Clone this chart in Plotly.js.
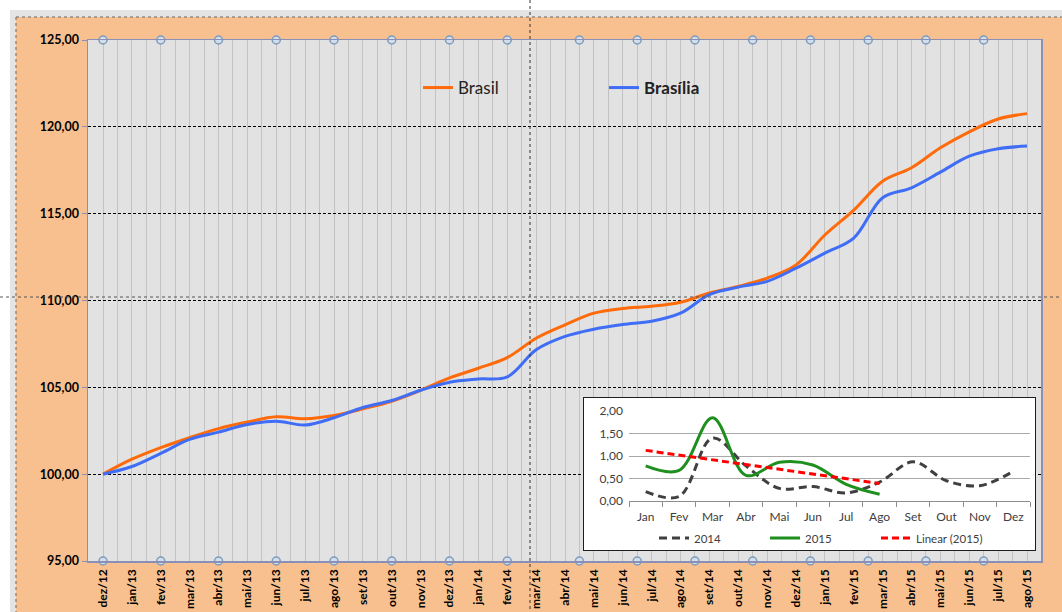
<!DOCTYPE html>
<html>
<head>
<meta charset="utf-8">
<script src="https://cdn.plot.ly/plotly-3.0.1.min.js"></script>
<style>html,body{margin:0;padding:0;background:#fff;}#chart{width:1062px;height:612px;}</style>
</head>
<body>
<div id="chart"></div>
<script>
// ---------- data ----------
const categories = ['dez/12','jan/13','fev/13','mar/13','abr/13','mai/13','jun/13','jul/13','ago/13','set/13','out/13','nov/13','dez/13','jan/14','fev/14','mar/14','abr/14','mai/14','jun/14','jul/14','ago/14','set/14','out/14','nov/14','dez/14','jan/15','fev/15','mar/15','abr/15','mai/15','jun/15','jul/15','ago/15'];
const brasil   = [100.00,100.86,101.53,102.10,102.62,103.00,103.30,103.19,103.38,103.76,104.20,104.83,105.54,106.10,106.71,107.83,108.60,109.27,109.54,109.67,109.90,110.43,110.81,111.29,112.05,113.77,115.20,116.87,117.64,118.79,119.71,120.45,120.76];
const brasilia = [100.00,100.44,101.20,102.00,102.42,102.86,103.05,102.83,103.25,103.84,104.24,104.83,105.29,105.48,105.60,107.16,107.93,108.35,108.62,108.81,109.27,110.34,110.77,111.10,111.86,112.73,113.59,115.92,116.49,117.39,118.31,118.74,118.89];
const frameMarkerSlots = [0,2,4,6,8,10,12,14,16.5,18.5,20.5,22.5,24.5,26.5,28.5,30.5];
const yTicks = [95,100,105,110,115,120,125];

const months = ['Jan','Fev','Mar','Abr','Mai','Jun','Jul','Ago','Set','Out','Nov','Dez'];
const v2014 = [0.21,0.10,1.40,0.78,0.28,0.32,0.18,0.42,0.87,0.45,0.34,0.66];
const v2015 = [0.78,0.68,1.85,0.57,0.86,0.80,0.37,0.15];
const insetTicks = [0,0.5,1,1.5,2];

// ---------- geometry helpers ----------
const W = 1062, H = 612, ML = 88, MR = 21, MT = 40, MB = 51;
const PW = W - ML - MR, PH = H - MT - MB;
const px = p => (p - ML) / PW;
const py = p => (H - MB - p) / PH;

const idx = categories.map((c, i) => i);
const yMin = yTicks[0], yMax = yTicks[yTicks.length - 1];

// linear trend of 2015
const n = v2015.length;
const xs = v2015.map((v, i) => i + 1);
const mx = xs.reduce((a, b) => a + b, 0) / n;
const my = v2015.reduce((a, b) => a + b, 0) / n;
let sxy = 0, sxx = 0;
xs.forEach((x, i) => { sxy += (x - mx) * (v2015[i] - my); sxx += (x - mx) * (x - mx); });
const slope = sxy / sxx, icpt = my - slope * mx;
const trend = xs.map(x => icpt + slope * x);

const FONT = 'Lato, "Open Sans", sans-serif';

const traces = [
  {x: idx, y: brasil, name: 'Brasil', type: 'scatter', mode: 'lines',
   line: {color: '#ff6a0a', width: 3, shape: 'spline', smoothing: 1}, legend: 'legend'},
  {x: idx, y: brasilia, name: '<b>Brasília</b>', type: 'scatter', mode: 'lines',
   line: {color: '#3f6df5', width: 3, shape: 'spline', smoothing: 1}, legend: 'legend'},
  {x: frameMarkerSlots, y: frameMarkerSlots.map(() => yMax), type: 'scatter', mode: 'markers',
   cliponaxis: false, showlegend: false, hoverinfo: 'skip',
   marker: {symbol: 'circle', size: 8, color: '#d3deea', line: {color: '#7d9bbd', width: 1.5}}},
  {x: frameMarkerSlots, y: frameMarkerSlots.map(() => yMin), type: 'scatter', mode: 'markers',
   cliponaxis: false, showlegend: false, hoverinfo: 'skip',
   marker: {symbol: 'circle', size: 8, color: '#d3deea', line: {color: '#7d9bbd', width: 1.5}}},
  // inset box background
  {x: [0, 1, 1, 0, 0], y: [0, 0, 1, 1, 0], xaxis: 'x2', yaxis: 'y2', type: 'scatter', mode: 'lines',
   fill: 'toself', fillcolor: '#ffffff', line: {color: '#1e1e1e', width: 2},
   cliponaxis: false, showlegend: false, hoverinfo: 'skip'},
  // inset series
  {x: months, y: v2014, name: '2014', xaxis: 'x3', yaxis: 'y3', type: 'scatter', mode: 'lines',
   line: {color: '#404040', width: 3, dash: '8px,5px', shape: 'spline', smoothing: 1}, legend: 'legend2', cliponaxis: false},
  {x: months.slice(0, v2015.length), y: v2015, name: '2015', xaxis: 'x3', yaxis: 'y3', type: 'scatter', mode: 'lines',
   line: {color: '#1f8f1f', width: 3, shape: 'spline', smoothing: 1}, legend: 'legend2', cliponaxis: false},
  {x: months.slice(0, v2015.length), y: trend, name: 'Linear (2015)', xaxis: 'x3', yaxis: 'y3', type: 'scatter', mode: 'lines',
   line: {color: '#ff0000', width: 3, dash: '7px,4px'}, legend: 'legend2', cliponaxis: false}
];

const hline = (y, x0, x1, color, dash, w) => ({type: 'line', xref: 'paper', yref: 'paper',
  x0: px(x0), x1: px(x1), y0: py(y), y1: py(y), line: {color: color, width: w || 1, dash: dash || 'solid'}, layer: 'above'});
const vline = (x, y0, y1, color, dash, w) => ({type: 'line', xref: 'paper', yref: 'paper',
  x0: px(x), x1: px(x), y0: py(y0), y1: py(y1), line: {color: color, width: w || 1, dash: dash || 'solid'}, layer: 'above'});
const rect = (x0, y0, x1, y1, fill, layer) => ({type: 'rect', xref: 'paper', yref: 'paper',
  x0: px(x0), x1: px(x1), y0: py(y1), y1: py(y0), fillcolor: fill, line: {width: 0}, layer: layer || 'above'});

const shapes = [
  // main plot area background
  {type: 'rect', xref: 'paper', yref: 'paper', x0: 0, x1: 1, y0: 0, y1: 1, fillcolor: '#e2e2e2', line: {width: 0}, layer: 'below'},
  rect(0, 0, W, 10, '#ffffff'),
  rect(0, 0, 10, H, '#ffffff'),
  rect(10, 10, W, 17, '#e4e4e4'),
  rect(10, 10, 16, H, '#e4e4e4'),
  hline(17, 16, W, '#666666', 'dot', 1),
  vline(16, 17, H, '#666666', 'dot', 1),
  vline(530, 0, H, '#333333', 'dot', 1),
  hline(297, 0, W, '#555555', 'dot', 1)
];

const layout = {
  width: W, height: H,
  margin: {l: ML, r: MR, t: MT, b: MB, pad: 0},
  paper_bgcolor: '#f8c08f',
  plot_bgcolor: 'rgba(0,0,0,0)',
  separators: ',.',
  font: {family: FONT, color: '#000'},
  showlegend: true,
  xaxis: {
    range: [-0.52, 32.485], tickmode: 'array', tickvals: idx, ticktext: categories,
    tickangle: -90, tickfont: {family: FONT, size: 12, color: '#000', weight: 'bold'},
    showgrid: true, gridcolor: '#c2c2c2', gridwidth: 1,
    minor: {tickmode: 'linear', tick0: -0.5, dtick: 1, showgrid: true, gridcolor: '#c2c2c2', gridwidth: 1},
    showline: true, mirror: true, linecolor: '#8a8fb8', linewidth: 1.5,
    ticks: '', ticklabelstandoff: 2, zeroline: false, fixedrange: true
  },
  yaxis: {
    range: [yMin, yMax], tickmode: 'array', tickvals: yTicks, tickformat: '.2f',
    tickfont: {family: FONT, size: 12.5, color: '#000', weight: 'bold'},
    showgrid: true, gridcolor: '#000000', gridwidth: 1, griddash: '3px,2px',
    showline: true, mirror: true, linecolor: '#8a8fb8', linewidth: 1.5,
    ticks: 'outside', ticklen: 5, tickcolor: '#8a8fb8', zeroline: false, fixedrange: true
  },
  xaxis2: {domain: [px(583), px(1036)], range: [0, 1], visible: false, anchor: 'y2', fixedrange: true},
  yaxis2: {domain: [py(551), py(397)], range: [0, 1], visible: false, anchor: 'x2', fixedrange: true},
  xaxis3: {
    domain: [px(629), px(1030)], anchor: 'y3', type: 'category', categoryarray: months, categoryorder: 'array',
    range: [-0.5, 11.5], showgrid: false, showline: true, linecolor: '#8c8c8c', linewidth: 1,
    ticks: 'outside', tickson: 'boundaries', ticklen: 5, tickcolor: '#8c8c8c', ticklabelstandoff: 5,
    tickfont: {family: FONT, size: 12, color: '#404040'}, fixedrange: true
  },
  yaxis3: {
    domain: [py(501), py(411)], anchor: 'x3', range: [0, 2], tickmode: 'array', tickvals: insetTicks,
    tickformat: '.2f', showgrid: true, gridcolor: '#a8a8a8', gridwidth: 1, showline: false, zeroline: false,
    ticks: '', ticklabelstandoff: 5, tickfont: {family: FONT, size: 12, color: '#404040'}, fixedrange: true
  },
  legend: {
    orientation: 'h', x: px(418), y: py(88), xanchor: 'left', yanchor: 'middle',
    bgcolor: 'rgba(0,0,0,0)', font: {family: FONT, size: 17, color: '#222'},
    entrywidth: 141, entrywidthmode: 'pixels', itemwidth: 30
  },
  legend2: {
    orientation: 'h', x: px(654), y: py(538), xanchor: 'left', yanchor: 'middle',
    bgcolor: 'rgba(0,0,0,0)', font: {family: FONT, size: 11.5, color: '#404040'},
    entrywidth: 66, entrywidthmode: 'pixels', itemwidth: 30
  },
  shapes: shapes
};

Plotly.newPlot('chart', traces, layout, {staticPlot: true, displayModeBar: false});
</script>
</body>
</html>
